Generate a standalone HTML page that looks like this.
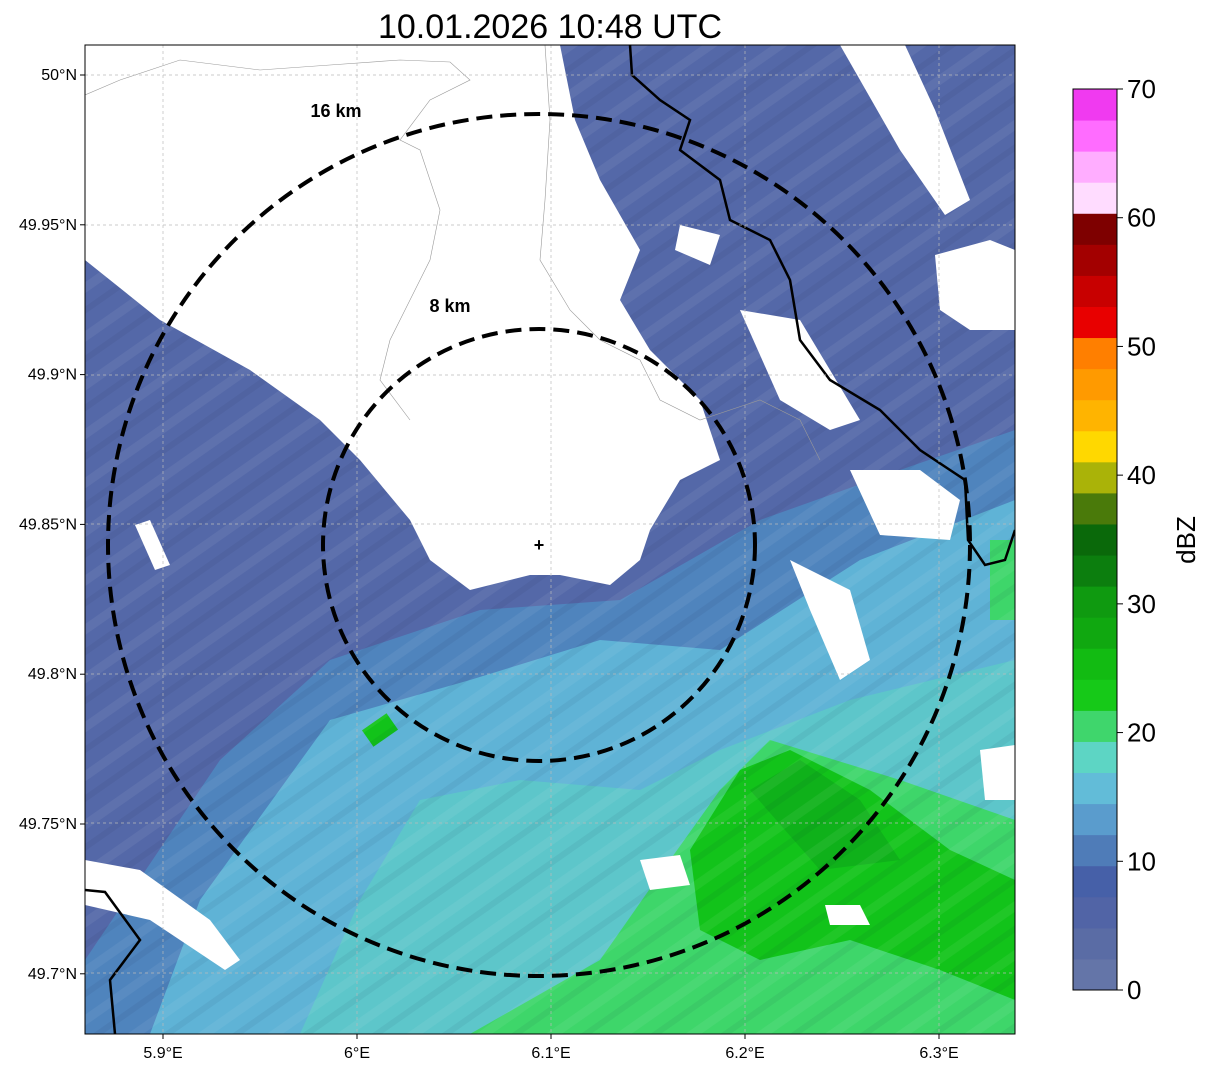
<!DOCTYPE html>
<html><head><meta charset="utf-8"><style>
body{margin:0;background:#fff;font-family:"Liberation Sans",sans-serif}
svg{display:block}
</style></head><body>
<svg width="1207" height="1069" viewBox="0 0 1207 1069">
<defs>
<clipPath id="mapclip"><rect x="85" y="45" width="930" height="989"/></clipPath>
<pattern id="streaks" width="40" height="40" patternUnits="userSpaceOnUse" patternTransform="rotate(-35)">
<rect x="0" y="0" width="40" height="9" fill="#ffffff" opacity="0.06"/>
<rect x="0" y="20" width="40" height="6" fill="#000030" opacity="0.05"/>
</pattern>
</defs>
<text x="550" y="38" text-anchor="middle" font-size="34" fill="#000">10.01.2026 10:48 UTC</text>
<g clip-path="url(#mapclip)">
<rect x="85" y="45" width="930" height="989" fill="#5468a8"/>
<polygon fill="#4f84bd" points="85,1034 85,960 220,760 330,660 480,610 620,600 760,520 900,470 1015,430 1015,1034"/>
<polygon fill="#5fb3d6" points="150,1034 200,900 330,720 470,680 600,640 720,650 860,560 1015,500 1015,1034"/>
<polygon fill="#5ccfc4" opacity="0.7" points="300,1034 360,900 420,800 520,780 640,790 720,750 850,700 1015,660 1015,1034"/>
<polygon fill="#3ed66a" points="470,1034 600,960 670,860 720,790 770,740 900,780 1015,820 1015,1034"/>
<polygon fill="#12c31a" points="690,850 740,770 790,750 870,790 950,850 1015,880 1015,1000 940,970 850,940 760,960 700,930"/>
<polygon fill="#0fb11a" points="750,790 800,760 860,800 900,860 820,870"/>
<rect x="365" y="720" width="30" height="20" fill="#12c31a" transform="rotate(-35 380 730)"/>
<rect x="990" y="540" width="30" height="80" fill="#3ed66a"/>
<rect x="85" y="45" width="930" height="989" fill="url(#streaks)"/>
<polygon fill="#fff" points="85,45 560,45 575,120 600,180 640,250 620,300 650,350 700,400 720,460 680,480 650,530 640,560 610,585 560,575 530,575 470,590 430,560 410,520 360,460 320,420 250,370 160,320 85,260"/>
<polygon fill="#fff" points="840,45 905,45 935,110 970,200 945,215 900,150"/>
<polygon fill="#fff" points="935,255 990,240 1015,250 1015,330 970,330 940,310"/>
<polygon fill="#fff" points="740,310 800,320 830,370 860,420 830,430 780,400"/>
<polygon fill="#fff" points="850,470 920,470 960,500 950,540 880,535"/>
<polygon fill="#fff" points="790,560 850,590 870,660 840,680 810,610"/>
<polygon fill="#fff" points="680,225 720,235 710,265 675,250"/>
<polygon fill="#fff" points="980,750 1015,745 1015,800 985,800"/>
<polygon fill="#fff" points="135,525 150,520 170,565 155,570"/>
<polygon fill="#fff" points="85,860 140,870 210,920 240,960 225,970 150,920 85,905"/>
<polygon fill="#fff" points="640,860 680,855 690,885 650,890"/>
<polygon fill="#fff" points="825,905 860,905 870,925 830,925"/>
<g fill="none" stroke="#000" stroke-width="2.5">
<polyline points="630,45 632,75 660,100 690,120 680,150 720,180 730,220 770,240 790,280 800,340 830,380 880,410 920,450 950,470 965,480 968,540 985,565 1005,560 1015,530"/>
<polyline points="85,890 105,892 140,940 110,980 115,1034"/>
</g>
<g fill="none" stroke="#999" stroke-width="0.6">
<polyline points="85,95 120,80 180,60 260,70 330,65 400,60 450,62 470,80 430,100 400,140 420,150 440,210 430,260 410,300 390,340 380,380 410,420"/>
<polyline points="545,45 550,120 545,200 540,260 570,310 600,340 640,360 660,400 700,420 760,400 800,420 820,460"/>
</g>
<g stroke="#bbb" stroke-width="0.7" stroke-dasharray="3,3">
<line x1="163" y1="45" x2="163" y2="1034"/><line x1="357" y1="45" x2="357" y2="1034"/><line x1="551" y1="45" x2="551" y2="1034"/><line x1="745" y1="45" x2="745" y2="1034"/><line x1="939" y1="45" x2="939" y2="1034"/>
<line x1="85" y1="75" x2="1015" y2="75"/><line x1="85" y1="225" x2="1015" y2="225"/><line x1="85" y1="375" x2="1015" y2="375"/><line x1="85" y1="524" x2="1015" y2="524"/><line x1="85" y1="674" x2="1015" y2="674"/><line x1="85" y1="823" x2="1015" y2="823"/><line x1="85" y1="973" x2="1015" y2="973"/>
</g>
<ellipse cx="539" cy="545" rx="431" ry="431" fill="none" stroke="#000" stroke-width="4" stroke-dasharray="16,8"/>
<ellipse cx="539" cy="545" rx="216" ry="216" fill="none" stroke="#000" stroke-width="4" stroke-dasharray="16,8"/>
<text x="539" y="551" text-anchor="middle" font-size="18" font-weight="bold">+</text>
<text x="336" y="117" text-anchor="middle" font-size="18" font-weight="bold">16 km</text>
<text x="450" y="312" text-anchor="middle" font-size="18" font-weight="bold">8 km</text>
</g>
<rect x="85" y="45" width="930" height="989" fill="none" stroke="#000" stroke-width="1"/>
<g id="axes" font-size="16" fill="#000"></g>
<g id="cbar"></g>
<text x="1195" y="540" font-size="26" text-anchor="middle" transform="rotate(-90 1195 540)">dBZ</text>
</svg>
<script>
const lonTicks=[5.9,6.0,6.1,6.2,6.3];
const lonLabels=["5.9°E","6°E","6.1°E","6.2°E","6.3°E"];
const latTicks=[50.0,49.95,49.9,49.85,49.8,49.75,49.7];
const latLabels=["50°N","49.95°N","49.9°N","49.85°N","49.8°N","49.75°N","49.7°N"];
const cbColors=["#6475a8","#5a6ca5","#5164a6","#4660a8","#4f7cb8","#5a9ccd","#62bcd8","#5dd5c4","#3fd66c","#16c918","#12bb12","#10a810","#0f9a10","#0c7e0e","#0a690a","#4a7a0a","#aab308","#ffd800","#ffb400","#ff9a00","#ff7f00","#e80000","#c80000","#a30000","#7e0000","#ffdcff","#ffadff","#ff6cff","#f03af0"];
const cbTicks=[0,10,20,30,40,50,60,70];
const NS="http://www.w3.org/2000/svg";
const xLon=v=>163+(v-5.9)*1940;
const yLat=v=>75+(50.0-v)*2996;
const ax=document.getElementById('axes');
lonTicks.forEach((v,i)=>{
  const t=document.createElementNS(NS,'text');
  t.setAttribute('x',xLon(v));t.setAttribute('y',1058);t.setAttribute('text-anchor','middle');
  
  
  t.textContent=lonLabels[i];ax.appendChild(t);
  const l=document.createElementNS(NS,'line');
  l.setAttribute('x1',xLon(v));l.setAttribute('x2',xLon(v));l.setAttribute('y1',1034);l.setAttribute('y2',1039);l.setAttribute('stroke','#000');
  
  
  ax.appendChild(l);
});
latTicks.forEach((v,i)=>{
  const t=document.createElementNS(NS,'text');
  t.setAttribute('x',77);t.setAttribute('y',yLat(v)+5);t.setAttribute('text-anchor','end');
  
  
  t.textContent=latLabels[i];ax.appendChild(t);
  const l=document.createElementNS(NS,'line');
  l.setAttribute('x1',80);l.setAttribute('x2',85);l.setAttribute('y1',yLat(v));l.setAttribute('y2',yLat(v));l.setAttribute('stroke','#000');
  
  
  ax.appendChild(l);
});
const cb=document.getElementById('cbar');
const cbTop=89,cbBot=990,cbX=1073,cbW=44,vMax=70;
const yCb=v=>cbBot-(v/vMax)*(cbBot-cbTop);
const step=vMax/cbColors.length;
cbColors.forEach((c,i)=>{
  const r=document.createElementNS(NS,'rect');
  const y0=yCb((i+1)*step),y1=yCb(i*step);
  r.setAttribute('x',cbX);r.setAttribute('y',y0);r.setAttribute('width',cbW);r.setAttribute('height',y1-y0+0.5);r.setAttribute('fill',c);
  
  
  cb.appendChild(r);
});
const fr=document.createElementNS(NS,'rect');
fr.setAttribute('x',cbX);fr.setAttribute('y',cbTop);fr.setAttribute('width',cbW);fr.setAttribute('height',cbBot-cbTop);fr.setAttribute('fill','none');fr.setAttribute('stroke','#000');


cb.appendChild(fr);
cbTicks.forEach(v=>{
  const t=document.createElementNS(NS,'text');
  t.setAttribute('x',1127);t.setAttribute('y',yCb(v)+9);t.setAttribute('font-size','26');
  
  
  t.textContent=v;cb.appendChild(t);
  const l=document.createElementNS(NS,'line');
  l.setAttribute('x1',cbX+cbW);l.setAttribute('x2',cbX+cbW+6);l.setAttribute('y1',yCb(v));l.setAttribute('y2',yCb(v));l.setAttribute('stroke','#000');
  
  
  cb.appendChild(l);
});
</script>
</body></html>
